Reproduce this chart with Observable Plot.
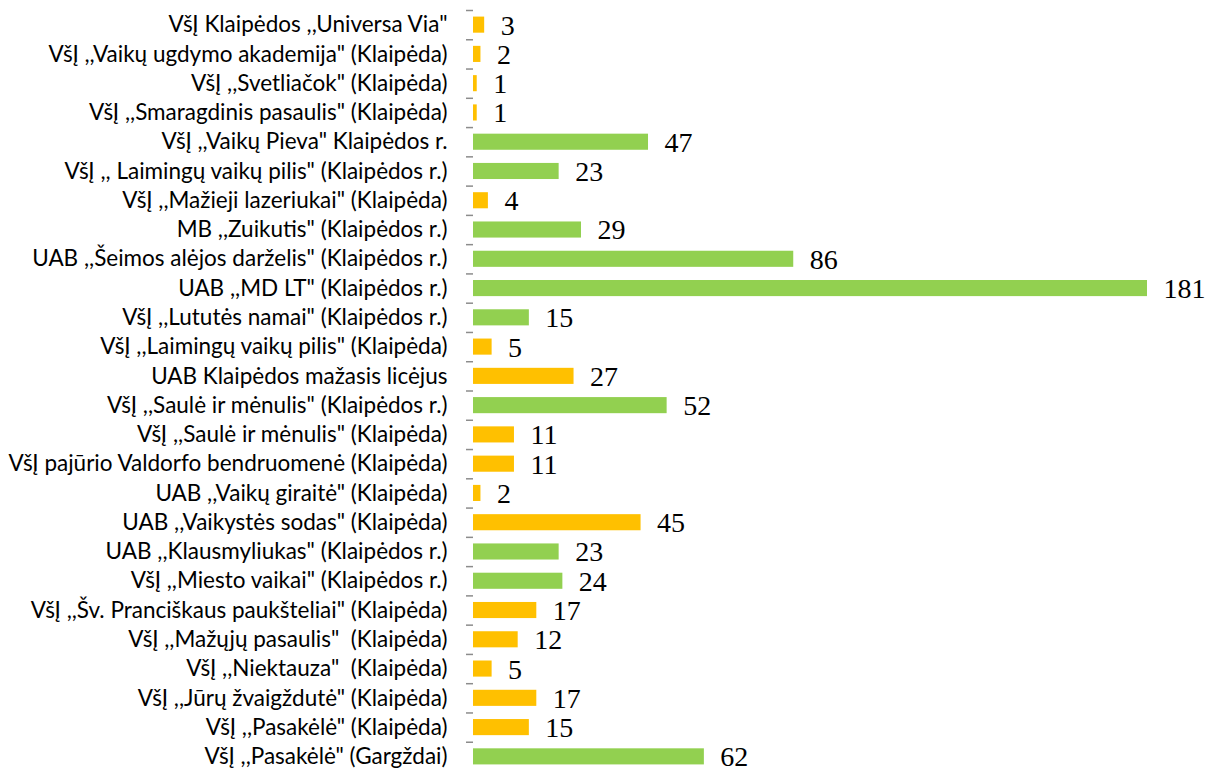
<!DOCTYPE html>
<html>
<head>
<meta charset="utf-8">
<script src="https://cdn.jsdelivr.net/npm/d3@7"></script>
<script src="https://cdn.jsdelivr.net/npm/@observablehq/plot@0.6"></script>
<style>
  html, body { margin: 0; padding: 0; background: #fff; }
</style>
</head>
<body>
<div id="chart"></div>
<script>
const categories = [
  "VšĮ Klaipėdos ,,Universa Via\"",
  "VšĮ ,,Vaikų ugdymo akademija\" (Klaipėda)",
  "VšĮ ,,Svetliačok\" (Klaipėda)",
  "VšĮ ,,Smaragdinis pasaulis\" (Klaipėda)",
  "VšĮ ,,Vaikų Pieva\" Klaipėdos r.",
  "VšĮ ,, Laimingų vaikų pilis\" (Klaipėdos r.)",
  "VšĮ ,,Mažieji lazeriukai\" (Klaipėda)",
  "MB ,,Zuikutis\" (Klaipėdos r.)",
  "UAB ,,Šeimos alėjos darželis\" (Klaipėdos r.)",
  "UAB ,,MD LT\" (Klaipėdos r.)",
  "VšĮ ,,Lututės namai\" (Klaipėdos r.)",
  "VšĮ ,,Laimingų vaikų pilis\" (Klaipėda)",
  "UAB Klaipėdos mažasis licėjus",
  "VšĮ ,,Saulė ir mėnulis\" (Klaipėdos r.)",
  "VšĮ ,,Saulė ir mėnulis\" (Klaipėda)",
  "VšĮ pajūrio Valdorfo bendruomenė (Klaipėda)",
  "UAB ,,Vaikų giraitė\" (Klaipėda)",
  "UAB ,,Vaikystės sodas\" (Klaipėda)",
  "UAB ,,Klausmyliukas\" (Klaipėdos r.)",
  "VšĮ ,,Miesto vaikai\" (Klaipėdos r.)",
  "VšĮ ,,Šv. Pranciškaus paukšteliai\" (Klaipėda)",
  "VšĮ ,,Mažųjų pasaulis\"  (Klaipėda)",
  "VšĮ ,,Niektauza\"  (Klaipėda)",
  "VšĮ ,,Jūrų žvaigždutė\" (Klaipėda)",
  "VšĮ ,,Pasakėlė\" (Klaipėda)",
  "VšĮ ,,Pasakėlė\" (Gargždai)"
];
const values = [3, 2, 1, 1, 47, 23, 4, 29, 86, 181, 15, 5, 27, 52, 11, 11, 2, 45, 23, 24, 17, 12, 5, 17, 15, 62];
// area group: "city" (Klaipėda, orange) or "district" (Klaipėdos r. / Gargždai, green)
const groups = ["city","city","city","city","district","district","city","district","district","district","district","city","city","district","city","city","city","city","district","district","city","city","city","city","city","district"];
const groupColors = {city: "#FFC000", district: "#92D050"};

const data = categories.map((c, i) => ({name: c, value: values[i], group: groups[i]}));

const W = 1216, H = 771;
const mTop = 10, mBottom = 0;
const step = (H - mTop - mBottom) / categories.length;

const chart = Plot.plot({
  width: W,
  height: H,
  marginTop: mTop,
  marginBottom: mBottom,
  marginLeft: 473,
  marginRight: 69,
  style: {background: "#fff", overflow: "visible"},
  x: {domain: [0, 181], axis: null},
  y: {domain: categories, paddingInner: 0.45, paddingOuter: 0.225, round: false, axis: null},
  marks: [
    Plot.barX(data, {y: "name", x: "value", fill: d => groupColors[d.group]}),
    Plot.axisY({
      anchor: "left", tickSize: 0, tickPadding: 26,
      fontSize: 22.5, fontFamily: "Lato", fill: "#000"
    }),
    Plot.axisY(categories, {
      anchor: "left", tickSize: 7, text: null, stroke: "#8c8c8c", strokeWidth: 1.5, dy: -step / 2
    }),
    Plot.ruleX([0], {stroke: "#8c8c8c", strokeWidth: 1.6, y1: categories[0], y2: categories[categories.length - 1], insetTop: -step / 2, insetBottom: -step / 2}),
    Plot.text(data, {
      y: "name", x: "value", text: d => String(d.value),
      textAnchor: "start", dx: 16, dy: 0.5,
      fontSize: 28, fontFamily: "Liberation Serif", fill: "#000"
    })
  ]
});
document.getElementById("chart").appendChild(chart);
</script>
</body>
</html>
